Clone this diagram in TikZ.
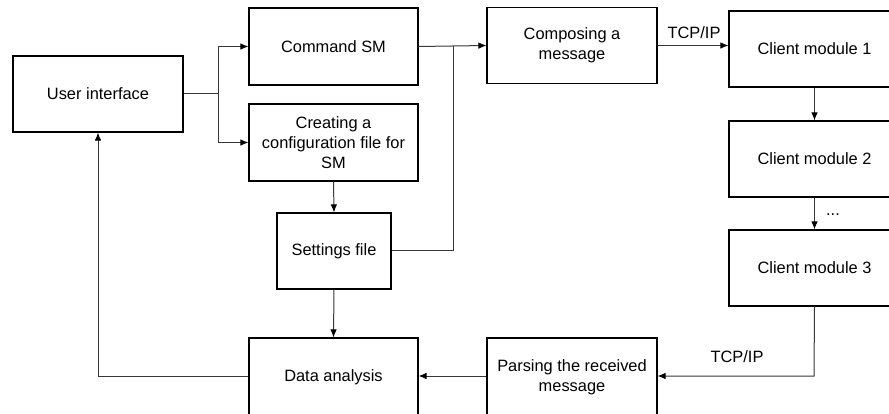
\documentclass[tikz,border=0pt]{standalone}
\usepackage{fontspec}
\setmainfont{Liberation Sans}
\usetikzlibrary{arrows.meta,calc}
\begin{document}
\begin{tikzpicture}[x=1pt,y=-1pt,
  box/.style={draw=black,line width=1.1pt,rectangle,align=center,
    inner sep=2pt,minimum width=169pt,minimum height=76pt,
    font=\fontsize{16.4}{20}\selectfont},
  link/.style={draw=black!78,line width=1pt},
  arr/.style={link,-{Latex[length=8pt,width=6.5pt,fill=black,color=black]}},
  lbl/.style={font=\fontsize{16.4}{20}\selectfont,inner sep=0pt}]
\useasboundingbox (0,0) rectangle (889,414);
\clip (0,0) rectangle (889,414);
% blocks
\node[box,minimum width=170pt] (ui) at (98,94) {User interface};
\node[box,minimum height=77pt] (cmd) at (333.5,46.5) {Command SM};
\node[box,minimum height=77pt] (cfg) at (333.5,142.5) {Creating a\\configuration file for\\SM};
\node[box,minimum width=114pt] (set) at (334,251) {Settings file};
\node[box,minimum height=78pt] (ana) at (333.5,377) {Data analysis};
\node[box,minimum width=170pt] (comp) at (572,45.5) {Composing a\\message};
\node[box,minimum width=170pt,minimum height=78pt] (pars) at (572,377) {Parsing the received\\message};
\node[box,minimum width=171pt] (c1) at (814.5,49) {Client module 1};
\node[box,minimum width=171pt] (c2) at (814.5,159) {Client module 2};
\node[box,minimum width=171pt] (c3) at (814.5,268) {Client module 3};
% routing points
\coordinate (fork) at (218,94);
\coordinate (join) at (453,46.5);
\coordinate (ret) at (814,376);
% connectors
\draw[arr] (ui.east) -- (fork) |- (cmd.west);
\draw[arr] (fork) |- (cfg.west);
\draw[arr] (cfg.south) -- (set.north);
\draw[arr] (set.south) -- (ana.north);
\draw[arr] (cmd.east) -- (comp.west);
\draw[link] (set.east) -| (join);
\draw[arr] (comp.east) -- (comp.east -| c1.west);
\node[lbl] (tcp1) at (694,33) {TCP/IP};
\draw[arr] (c1.south) -- (c2.north);
\draw[arr] (c2.south) -- (c3.north);
\node[lbl] (dots) at (833,215) {...};
\draw[arr] (c3.south) -- (ret) -- (ret -| pars.east);
\node[lbl] (tcp2) at (737,357) {TCP/IP};
\draw[arr] (pars.west |- ret) -- (ana.east |- ret);
\draw[arr] (ana.west |- ret) -| (ui.south);
\end{tikzpicture}
\end{document}
